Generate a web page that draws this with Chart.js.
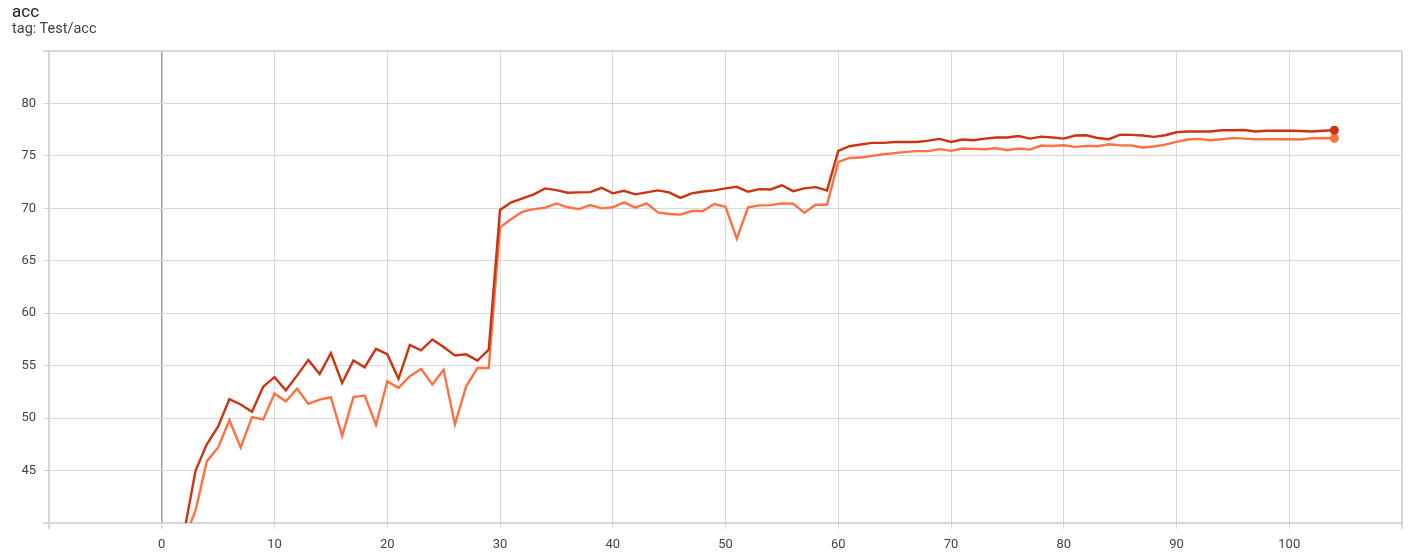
<!DOCTYPE html>
<html>
<head>
<meta charset="utf-8">
<script src="https://cdn.jsdelivr.net/npm/chart.js@4/dist/chart.umd.min.js"></script>
<style>
    body { margin: 0; background: #fff; font-family: Roboto, sans-serif; }
    #wrap { position: relative; width: 1421px; height: 553px; }
    #title { position: absolute; left: 12px; top: 1px; font-size: 17px; color: #212121; }
    #tag { position: absolute; left: 12px; top: 20px; font-size: 14.5px; color: #424242; }
    canvas { position: absolute; left: 0; top: 0; }
</style>
</head>
<body>
<div id="wrap">
    <canvas id="mychart" width="1421" height="553"></canvas>
    <div id="title">acc</div>
    <div id="tag">tag: Test/acc</div>
</div>
<script>
// step 2..104
const steps = [];
for (let s = 2; s <= 104; s += 1) steps.push(s);

const darkRun = [
    39.2, 45.0, 47.5, 49.2, 51.8, 51.3, 50.6, 53.0, 53.9,
    52.65, 54.05, 55.55, 54.2, 56.2, 53.35, 55.5, 54.85, 56.6, 56.1,
    53.75, 56.97, 56.46, 57.5, 56.78, 55.98, 56.08, 55.48, 56.52, 69.84,
    70.57, 70.95, 71.33, 71.9, 71.74, 71.49, 71.52, 71.55, 71.96, 71.43,
    71.67, 71.33, 71.52, 71.71, 71.52, 71.0, 71.43, 71.6, 71.71, 71.9,
    72.05, 71.58, 71.83, 71.8, 72.2, 71.64, 71.9, 72.02, 71.71, 75.48,
    75.92, 76.08, 76.24, 76.24, 76.33, 76.33, 76.33, 76.46, 76.62, 76.33,
    76.56, 76.49, 76.65, 76.75, 76.75, 76.9, 76.65, 76.84, 76.75, 76.65,
    76.94, 76.97, 76.71, 76.59, 77.03, 77.0, 76.94, 76.81, 76.97, 77.25,
    77.32, 77.32, 77.32, 77.44, 77.44, 77.47, 77.32, 77.4, 77.4, 77.4,
    77.37, 77.32, 77.4, 77.44
];

const orangeRun = [
    38.5, 41.2, 45.9, 47.2, 49.8, 47.2, 50.1, 49.87, 52.34,
    51.6, 52.8, 51.36, 51.77, 51.99, 48.3, 52.0, 52.15, 49.35, 53.5,
    52.88, 54.0, 54.7, 53.2, 54.6, 49.4, 53.03, 54.78, 54.78, 68.19,
    68.98, 69.68, 69.93, 70.06, 70.47, 70.1, 69.93, 70.31, 70.0, 70.1,
    70.57, 70.06, 70.47, 69.62, 69.46, 69.4, 69.74, 69.74, 70.41, 70.15,
    67.1, 70.1, 70.28, 70.31, 70.47, 70.44, 69.58, 70.34, 70.34, 74.43,
    74.81, 74.84, 75.0, 75.16, 75.26, 75.38, 75.45, 75.45, 75.64, 75.48,
    75.7, 75.67, 75.64, 75.73, 75.54, 75.7, 75.6, 75.99, 75.95, 76.02,
    75.86, 75.95, 75.92, 76.11, 76.0, 75.99, 75.8, 75.89, 76.08, 76.33,
    76.56, 76.62, 76.49, 76.59, 76.71, 76.65, 76.59, 76.59, 76.59, 76.59,
    76.56, 76.68, 76.71, 76.68
];

const runs = [
    { name: 'dark', color: '#cc3311', values: darkRun },
    { name: 'orange', color: '#ff7043', values: orangeRun }
];

const xMin = -10, xMax = 110, xStep = 10;
const yMin = 40, yMax = 85, yStep = 5;

const gridLight = '#d9d9d9';
const edgeGrey = '#d6d6d6';
const tickFont = { family: 'Roboto, sans-serif', size: 13 };

const datasets = runs.map((run) => ({
    label: run.name,
    data: steps.map((s, i) => ({ x: s, y: run.values[i] })),
    borderColor: run.color,
    backgroundColor: run.color,
    borderWidth: 2.4,
    tension: 0,
    // 끝점에만 점 표시
    pointRadius(ctx) {
        return ctx.dataIndex === steps.length - 1 ? 4.5 : 0;
    },
    pointBorderWidth: 0,
    pointHoverRadius: 0
}));

new Chart(document.getElementById('mychart'), {
    type: 'line',
    data: { datasets },
    options: {
        responsive: false,
        maintainAspectRatio: false,
        animation: false,
        layout: { padding: { top: 51, left: 0, right: 19, bottom: 0 } },
        plugins: {
            legend: { display: false },
            tooltip: { enabled: false }
        },
        scales: {
            x: {
                type: 'linear',
                min: xMin,
                max: xMax,
                afterFit(scale) { scale.height = 30; },
                ticks: {
                    stepSize: xStep,
                    color: '#444',
                    font: tickFont,
                    padding: 8,
                    maxRotation: 0,
                    autoSkip: false,
                    callback(v) {
                        return (v === xMin || v === xMax) ? '' : v;
                    }
                },
                grid: {
                    tickLength: 6,
                    color(ctx) {
                        const v = ctx.tick && ctx.tick.value;
                        if (v === 0) return '#9e9e9e';
                        if (v === xMin || v === xMax) return edgeGrey;
                        return gridLight;
                    },
                    lineWidth(ctx) {
                        const v = ctx.tick && ctx.tick.value;
                        if (v === 0) return 1.5;
                        if (v === xMin || v === xMax) return 2;
                        return 1;
                    },
                    tickColor: edgeGrey
                },
                border: { display: true, color: edgeGrey, width: 2 }
            },
            y: {
                type: 'linear',
                min: yMin,
                max: yMax,
                afterFit(scale) { scale.width = 49; },
                ticks: {
                    stepSize: yStep,
                    color: '#444',
                    font: tickFont,
                    padding: 7,
                    callback(v) {
                        return (v === yMin || v === yMax) ? '' : v;
                    }
                },
                grid: {
                    tickLength: 6,
                    color(ctx) {
                        const v = ctx.tick && ctx.tick.value;
                        if (v === yMin || v === yMax) return edgeGrey;
                        return gridLight;
                    },
                    lineWidth(ctx) {
                        const v = ctx.tick && ctx.tick.value;
                        return (v === yMin || v === yMax) ? 2 : 1;
                    },
                    tickColor: edgeGrey
                },
                border: { display: true, color: edgeGrey, width: 2 }
            }
        }
    }
});
</script>
</body>
</html>
